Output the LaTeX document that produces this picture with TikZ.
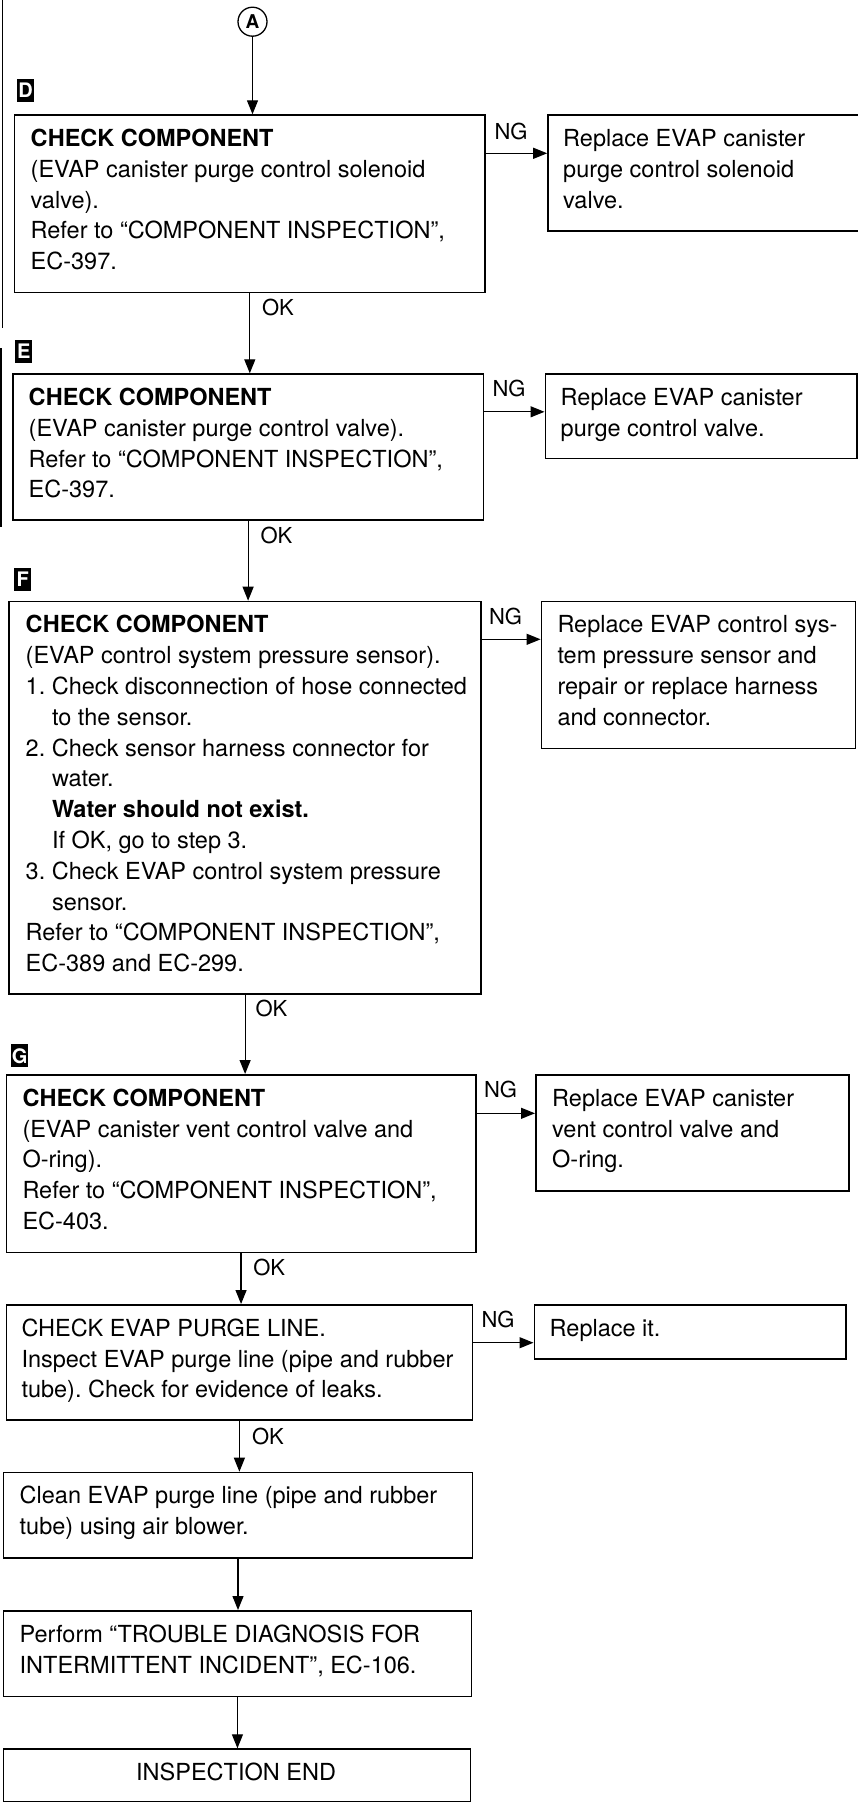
\documentclass[tikz,border=0pt]{standalone}
\usepackage{fontspec}
\setmainfont{TeX Gyre Heros}
\usetikzlibrary{arrows.meta,calc}
\AtBeginDocument{\frenchspacing}
\begin{document}
\begin{tikzpicture}[x=1pt,y=-1pt,
  box/.style={draw, line width=1.6pt, inner sep=0pt, anchor=north west},
  txt/.style={anchor=north west, inner sep=0pt, align=left, font=\fontsize{23.5}{30.8}\selectfont\frenchspacing},
  lab/.style={inner sep=0pt, font=\fontsize{22}{22}\selectfont},
  tag/.style={fill=black, text=white, inner sep=0pt, minimum width=17pt, minimum height=23pt, anchor=north west, font=\bfseries\fontsize{20}{20}\selectfont},
  conn/.style={line width=1.2pt},
  arr/.style={conn, -{Triangle[length=14pt,width=11pt]}},
]
\useasboundingbox (0,0) rectangle (858,1802);

% left margin bars
\draw[line width=1.3pt] (2.7,0) -- (2.7,328);
\draw[line width=1.3pt] (1,348) -- (1,527);

% connector A
\node[circle, draw, line width=1.3pt, minimum size=29pt, inner sep=0pt, font=\bfseries\fontsize{19}{19}\selectfont] (a) at (252.5,21.7) {A};

% ---------- D ----------
\node[tag] (tagd) at (17,79) {D};
\node[box, minimum width=470.6pt, minimum height=177.4pt] (dbox) at (13.7,114.3) {};
\draw[arr] (a.south) -- (a.south |- dbox.north);
\node[txt] (dtxt) at (30.5,126.3) {\rule{0pt}{20pt}\textbf{CHECK COMPONENT}\\(EVAP canister purge control solenoid\\valve).\\Refer to “COMPONENT INSPECTION”,\\EC-397.};
\node[box, minimum width=314.8pt, minimum height=115.7pt] (drep) at (547.2,114.3) {};
\node[txt] (dreptxt) at (563,126.3) {\rule{0pt}{20pt}Replace EVAP canister\\purge control solenoid\\valve.};
\node[lab] (dng) at (511,131) {NG};
\coordinate (dngs) at ([yshift=-39pt]dbox.north east);
\draw[arr] (dngs) -- (dngs -| drep.west);

% ---------- E ----------
\node[tag] (tage) at (15,340) {E};
\node[box, minimum width=470.6pt, minimum height=146pt] (ebox) at (12,373.3) {};
\node[txt] (etxt) at (28.5,385.3) {\rule{0pt}{20pt}\textbf{CHECK COMPONENT}\\(EVAP canister purge control valve).\\Refer to “COMPONENT INSPECTION”,\\EC-397.};
\node[box, minimum width=311.9pt, minimum height=84.4pt] (erep) at (544.5,373.3) {};
\node[txt] (ereptxt) at (560.5,385.3) {\rule{0pt}{20pt}Replace EVAP canister\\purge control valve.};
\node[lab] (eng) at (509,388) {NG};
\coordinate (engs) at ([yshift=-38.5pt]ebox.north east);
\draw[arr] (engs) -- (engs -| erep.west);
\node[lab] (dok) at (278,307.5) {OK};
\draw[arr] (dbox.south) -- (dbox.south |- ebox.north);

% ---------- F ----------
\node[tag] (tagf) at (14,568) {F};
\node[box, minimum width=472.2pt, minimum height=392.6pt] (fbox) at (8.2,600.7) {};
\node[txt] (ftxt) at (25.5,612.7) {\rule{0pt}{20pt}\textbf{CHECK COMPONENT}\\(EVAP control system pressure sensor).\\1. Check disconnection of hose connected\\\hspace*{26.3pt}to the sensor.\\2. Check sensor harness connector for\\\hspace*{26.3pt}water.\\\hspace*{26.3pt}\textbf{Water should not exist.}\\\hspace*{26.3pt}If OK, go to step 3.\\3. Check EVAP control system pressure\\\hspace*{26.3pt}sensor.\\Refer to “COMPONENT INSPECTION”,\\EC-389 and EC-299.};
\node[box, minimum width=314.1pt, minimum height=147pt] (frep) at (540.6,600.7) {};
\node[txt] (freptxt) at (557.3,612.7) {\rule{0pt}{20pt}Replace EVAP control sys-\\tem pressure sensor and\\repair or replace harness\\and connector.};
\node[lab] (fng) at (505.6,616) {NG};
\coordinate (fngs) at ([yshift=-38.6pt]fbox.north east);
\draw[arr] (fngs) -- (fngs -| frep.west);
\node[lab] (eok) at (276.4,535) {OK};
\draw[arr] (ebox.south) -- (ebox.south |- fbox.north);

% ---------- G ----------
\node[tag] (tagg) at (11,1044) {G};
\node[box, minimum width=469.5pt, minimum height=177.7pt] (gbox) at (5.5,1074) {};
\node[txt] (gtxt) at (22.3,1086) {\rule{0pt}{20pt}\textbf{CHECK COMPONENT}\\(EVAP canister vent control valve and\\O-ring).\\Refer to “COMPONENT INSPECTION”,\\EC-403.};
\node[box, minimum width=313pt, minimum height=116pt] (grep) at (535,1074) {};
\node[txt] (greptxt) at (552,1086) {\rule{0pt}{20pt}Replace EVAP canister\\vent control valve and\\O-ring.};
\node[lab] (gng) at (500.6,1089) {NG};
\coordinate (gngs) at ([yshift=-39.3pt]gbox.north east);
\draw[arr] (gngs) -- (gngs -| grep.west);
\node[lab] (fok) at (271.5,1008.3) {OK};
\draw[arr] (fbox.south) -- (fbox.south |- gbox.north);

% ---------- Purge line ----------
\node[box, minimum width=466.2pt, minimum height=115.3pt] (pbox) at (5.5,1304) {};
\node[txt] (ptxt) at (21.3,1316) {\rule{0pt}{20pt}CHECK EVAP PURGE LINE.\\Inspect EVAP purge line (pipe and rubber\\tube). Check for evidence of leaks.};
\node[box, minimum width=311.9pt, minimum height=54.3pt] (prep) at (533.5,1304) {};
\node[txt] (preptxt) at (549.5,1316) {\rule{0pt}{20pt}Replace it.};
\node[lab] (png) at (498,1319) {NG};
\coordinate (pngs) at ([yshift=-38.7pt]pbox.north east);
\draw[arr] (pngs) -- (pngs -| prep.west);
\node[lab] (gok) at (269.2,1267.5) {OK};
\draw[arr] (gbox.south) -- (gbox.south |- pbox.north);

% ---------- Clean ----------
\node[box, minimum width=469pt, minimum height=85.6pt] (cbox) at (2.7,1471.7) {};
\node[txt] (ctxt) at (19.5,1483.7) {\rule{0pt}{20pt}Clean EVAP purge line (pipe and rubber\\tube) using air blower.};
\node[lab] (pok) at (268,1436.5) {OK};
\draw[arr] (pbox.south) -- (pbox.south |- cbox.north);

% ---------- Perform ----------
\node[box, minimum width=467.9pt, minimum height=85.7pt] (tbox) at (2.7,1610) {};
\node[txt] (ttxt) at (19.5,1622) {\rule{0pt}{20pt}Perform “TROUBLE DIAGNOSIS FOR\\INTERMITTENT INCIDENT”, EC-106.};
\draw[arr] (cbox.south) -- (cbox.south |- tbox.north);

% ---------- End ----------
\node[box, minimum width=466.8pt, minimum height=52.7pt] (endbox) at (2.7,1748.3) {};
\node[anchor=base, inner sep=0pt, font=\fontsize{23.5}{30.8}\selectfont] (endtxt) at (236.1,1780) {INSPECTION END};
\draw[arr] (tbox.south) -- (tbox.south |- endbox.north);
\end{tikzpicture}
\end{document}
